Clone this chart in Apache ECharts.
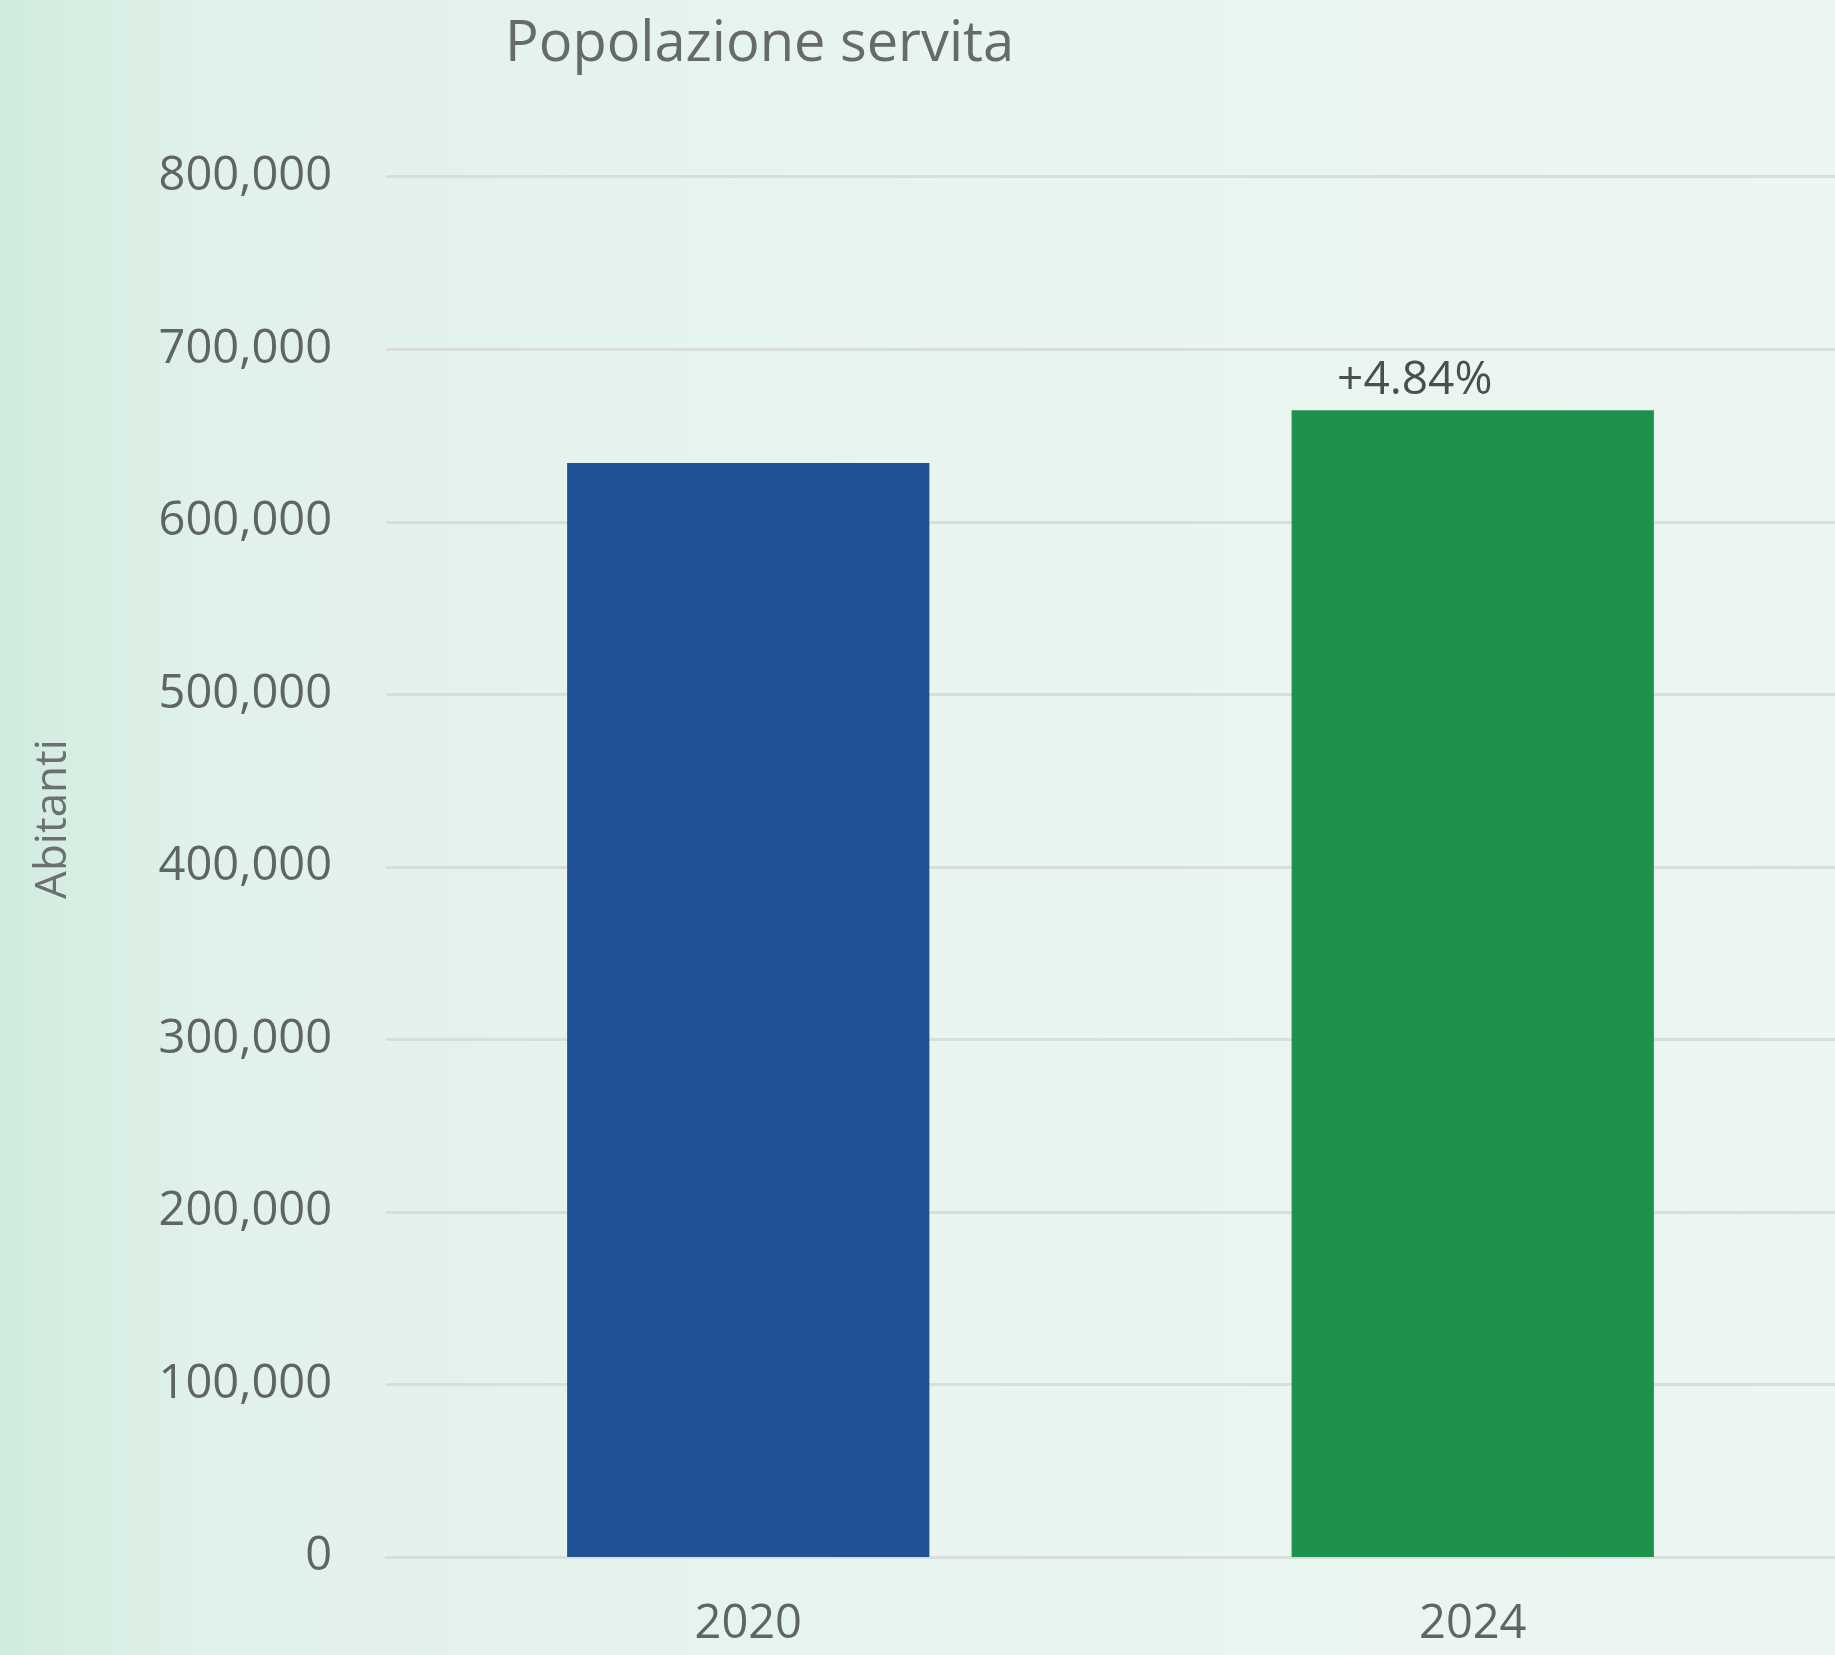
<!DOCTYPE html>
<html>
<head>
<meta charset="utf-8">
<script src="https://cdn.jsdelivr.net/npm/echarts@6/dist/echarts.min.js"></script>
<style>
html,body{margin:0;padding:0;width:1835px;height:1655px;overflow:hidden;}
#chart{width:1835px;height:1655px;}
</style>
</head>
<body>
<div id="chart"></div>
<script>
const categories = ["2020", "2024"];
const values = [634000, 664700];
const barLabels = ["", "+4.84%"];
const yTicks = [0, 100000, 200000, 300000, 400000, 500000, 600000, 700000, 800000];
const barColors = ["#1f5194", "#1f914e"];
const titleText = "Popolazione servita";
const yAxisTitle = "Abitanti";

const chart = echarts.init(document.getElementById('chart'), null, {renderer: 'canvas'});
const font = '"Open Sans", "Noto Sans", sans-serif';

chart.setOption({
  backgroundColor: new echarts.graphic.LinearGradient(0, 0, 1, 0, [
    {offset: 0, color: '#d1ebdf'},
    {offset: 0.12, color: '#e1f2ea'},
    {offset: 0.5, color: '#e7f5ee'},
    {offset: 1, color: '#edf6f2'}
  ]),
  animation: false,
  title: {
    text: titleText,
    left: 500,
    top: 12,
    textStyle: {fontFamily: font, fontSize: 56, fontWeight: 'normal', color: '#666a69'}
  },
  graphic: [{
    type: 'text',
    x: 53,
    y: 819,
    rotation: Math.PI / 2,
    style: {
      text: yAxisTitle,
      fontFamily: font,
      fontSize: 44,
      fill: '#6b7070',
      textAlign: 'center',
      textVerticalAlign: 'middle'
    }
  }],
  grid: {left: 386, right: 0, top: 176.7, bottom: 98, containLabel: false},
  xAxis: {
    type: 'category',
    data: categories,
    axisLine: {show: true, lineStyle: {color: '#d8dedb', width: 3}},
    axisTick: {show: false},
    axisLabel: {fontFamily: font, fontSize: 47, color: '#5f6564', margin: 44}
  },
  yAxis: {
    type: 'value',
    min: yTicks[0],
    max: yTicks[yTicks.length - 1],
    interval: yTicks[1] - yTicks[0],
    axisLine: {show: false},
    axisTick: {show: false},
    splitLine: {lineStyle: {color: '#d8dedb', width: 3}},
    axisLabel: {
      fontFamily: font, fontSize: 47, color: '#5f6564', margin: 54,
      formatter: v => v.toLocaleString('en-US')
    }
  },
  series: [{
    type: 'bar',
    barWidth: '50%',
    data: values.map((v, i) => ({
      value: v,
      itemStyle: {color: barColors[i]},
      label: {
        show: barLabels[i] !== '',
        position: 'top',
        offset: [-58, 0],
        distance: 6,
        formatter: barLabels[i],
        fontFamily: font,
        fontSize: 46,
        color: '#4a4f4e'
      }
    }))
  }]
});
</script>
</body>
</html>
